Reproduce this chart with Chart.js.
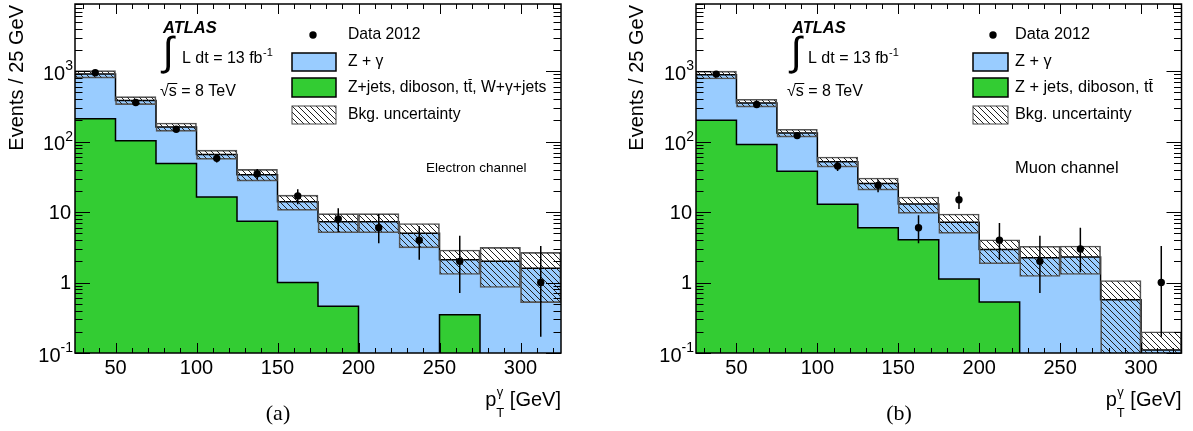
<!DOCTYPE html>
<html><head><meta charset="utf-8">
<script src="https://cdn.jsdelivr.net/npm/chart.js@4.4.1/dist/chart.umd.min.js"></script>
<style>
html,body{margin:0;padding:0;background:#fff;}
#wrap{position:relative;width:1193px;height:431px;overflow:hidden;background:#fff;}
canvas{position:absolute;top:0;}
</style></head><body>
<div id="wrap">
<canvas id="cA" width="596" height="431" style="left:0px;width:596px;height:431px"></canvas>
<canvas id="cB" width="597" height="431" style="left:596px;width:597px;height:431px"></canvas>
</div>
<script>
// ---------- data ----------
const binEdges = [25,50,75,100,125,150,175,200,225,250,275,300,325];
const xTickValues = [50,100,150,200,250,300];
const xTickLabels = ['50','100','150','200','250','300'];
const yTickValues = [0.1,1,10,100,1000];
const yTickLabels = ['10^-1','1','10','10^2','10^3'];
const yMin = 0.1, yMax = 9000;

// (a) electron channel
const elecOther   = [211,103,49,16.4,7.4,1.0,0.46,0,0,0.35,0,0];
const elecZgamma  = [699,282,113,49.6,26.6,13.0,6.84,7.3,5.0,1.75,2.0,1.6];
const elecBkgUnc  = [112,50,22,10,6.5,3.4,2.2,2.2,1.9,0.8,1.15,1.08];
const elecData    = [950,360,150,58,35,17,8,6,4,2,null,1];
const elecDataLo  = [919,341,138,50.5,29.1,12.9,5.2,3.6,2.1,0.71,null,0.17];
const elecDataHi  = [981,379,162,65.5,40.9,21.1,11.3,9.4,6.3,4.6,null,3.3];

// (b) muon channel
const muonOther   = [201,91,38,12.9,6.0,4.05,1.12,0.53,0,0,0,0];
const muonZgamma  = [689,264,95,39.1,19.5,8.95,6.08,2.42,2.25,2.3,0.57,0.11];
const muonBkgUnc  = [115,45,17,8.5,5.0,3.4,2.2,1.1,1.03,1.0,0.5,0.09];
const muonData    = [910,337,122,45,24,6,15,4,2,3,null,1];
const muonDataLo  = [880,319,111,38.3,19.1,3.6,11.1,2.1,0.71,1.4,null,0.17];
const muonDataHi  = [940,355,133,51.7,28.9,9.0,19.4,7.0,4.6,6.0,null,3.3];

const FONT = '"Liberation Sans", Arial, Helvetica, sans-serif';
const BLUE = '#99ccff', GREEN = '#33cc33';

function makePattern(ctx){
  const s = 6, c = document.createElement('canvas');
  c.width = s; c.height = s;
  const g = c.getContext('2d');
  g.strokeStyle = '#222'; g.lineWidth = 1;
  g.beginPath();
  for (const o of [-s, 0, s]) { g.moveTo(o, 0); g.lineTo(o + s, s); }
  g.stroke();
  return ctx.createPattern(c, 'repeat');
}

function makeDecor(cfg){
  const off = cfg.off;
  function txt(ctx, s, X, Y, size, opt){
    opt = opt || {};
    ctx.font = (opt.style || '') + ' ' + size + 'px ' + FONT;
    ctx.textAlign = opt.align || 'left';
    ctx.textBaseline = opt.base || 'middle';
    ctx.fillStyle = '#000';
    ctx.fillText(s, X - off, Y);
    return ctx.measureText(s).width;
  }
  function line(ctx, x1, y1, x2, y2){ ctx.beginPath(); ctx.moveTo(x1, y1); ctx.lineTo(x2, y2); ctx.stroke(); }
  return {
    id: 'decor' + cfg.id,
    afterDatasetsDraw(chart){
      const {ctx, chartArea: a, scales: {x, y}} = chart;
      ctx.save();
      ctx.beginPath(); ctx.rect(a.left, a.top, a.right - a.left, a.bottom - a.top); ctx.clip();
      ctx.strokeStyle = '#000'; ctx.lineWidth = 1.5;
      cfg.data.forEach((v, i) => {
        if (v == null) return;
        const px = x.getPixelForValue(cfg.centers[i]);
        line(ctx, px, y.getPixelForValue(cfg.lo[i]), px, y.getPixelForValue(cfg.hi[i]));
      });
      ctx.restore();
    },
    afterDraw(chart){
      const {ctx, chartArea: a, scales: {x, y}} = chart;
      ctx.save();
      // frame
      ctx.strokeStyle = '#000'; ctx.lineWidth = 1.5;
      ctx.strokeRect(a.left, a.top, a.right - a.left, a.bottom - a.top);
      // ticks
      ctx.lineWidth = 1;
      for (let v = 30; v <= 320; v += 10) {
        const px = Math.round(x.getPixelForValue(v)) + 0.5;
        const L = v % 50 === 0 ? 10 : 5;
        line(ctx, px, a.bottom, px, a.bottom - L);
        line(ctx, px, a.top, px, a.top + L);
      }
      for (let e = -1; e <= 3; e++) {
        for (let k = 1; k <= 9; k++) {
          const v = k * Math.pow(10, e);
          if (v > yMax) break;
          const py = Math.round(y.getPixelForValue(v)) + 0.5;
          const L = k === 1 ? 15 : 7.5;
          line(ctx, a.left, py, a.left + L, py);
          line(ctx, a.right, py, a.right - L, py);
        }
      }
      // x tick labels
      ctx.fillStyle = '#000';
      xTickValues.forEach((v, i) => {
        ctx.font = '20px ' + FONT; ctx.textAlign = 'center'; ctx.textBaseline = 'middle';
        ctx.fillText(xTickLabels[i], x.getPixelForValue(v), a.bottom + 15);
      });
      // y tick labels
      yTickValues.forEach((v, i) => {
        const py = y.getPixelForValue(v);
        const parts = yTickLabels[i].split('^');
        const xr = a.left - 4;
        ctx.textBaseline = 'middle'; ctx.textAlign = 'left';
        if (parts.length === 1) {
          ctx.font = '20px ' + FONT;
          const w = ctx.measureText(parts[0]).width;
          ctx.fillText(parts[0], xr - w, py + 1);
        } else {
          ctx.font = '20px ' + FONT;
          const wb = ctx.measureText(parts[0]).width;
          ctx.font = '14px ' + FONT;
          const we = ctx.measureText(parts[1]).width;
          const x0 = xr - wb - we + 2;
          ctx.font = '20px ' + FONT;
          ctx.fillText(parts[0], x0, py + 3);
          ctx.font = '14px ' + FONT;
          ctx.fillText(parts[1], x0 + wb, py - 5);
        }
      });
      // y title
      ctx.save();
      ctx.translate(cfg.yTitleX - off, 5);
      ctx.rotate(-Math.PI / 2);
      ctx.font = '20px ' + FONT; ctx.textAlign = 'right'; ctx.textBaseline = 'middle';
      ctx.fillText('Events / 25 GeV', 0, 0);
      ctx.restore();
      // x title  p_T^gamma [GeV]
      {
        ctx.font = '20px ' + FONT; const wp = ctx.measureText('p').width;
        const wr = ctx.measureText(' [GeV]').width;
        ctx.font = '13px ' + FONT; const ws = Math.max(ctx.measureText('T').width, ctx.measureText('γ').width);
        const x0 = a.right - (wp + ws + wr);
        ctx.textAlign = 'left'; ctx.textBaseline = 'alphabetic';
        ctx.font = '20px ' + FONT; ctx.fillText('p', x0, 406);
        ctx.font = '13px ' + FONT; ctx.fillText('T', x0 + wp, 417); ctx.fillText('γ', x0 + wp + 0.5, 396);
        ctx.font = '20px ' + FONT; ctx.fillText(' [GeV]', x0 + wp + ws, 406);
      }
      // panel letter
      ctx.font = '22px "Liberation Serif", "DejaVu Serif", serif';
      ctx.textAlign = 'center'; ctx.textBaseline = 'middle';
      ctx.fillText(cfg.letter, cfg.letterX - off, 414);
      // ATLAS label
      txt(ctx, 'ATLAS', cfg.atlasX, 33, 16.5, {style: 'italic bold', base: 'alphabetic'});
      txt(ctx, '∫', cfg.intX, 54, 40, {align: 'center'});
      const wl = txt(ctx, 'L dt = 13 fb', cfg.ldtX, 63, 16, {base: 'alphabetic'});
      txt(ctx, '-1', cfg.ldtX + wl + 0.5, 56, 11, {base: 'alphabetic'});
      {
        ctx.font = '16px ' + FONT;
        const wsq = ctx.measureText('√').width, wsx = ctx.measureText('s').width;
        txt(ctx, '√s = 8 TeV', cfg.sqrtX, 96, 16, {base: 'alphabetic'});
        ctx.lineWidth = 1; ctx.strokeStyle = '#000';
        line(ctx, cfg.sqrtX - off + wsq - 1, 83.5, cfg.sqrtX - off + wsq + wsx + 0.5, 83.5);
      }
      // legend
      const L = cfg.leg, fs = L.size;
      ctx.fillStyle = '#000';
      ctx.beginPath(); ctx.arc(L.markX - off, 35, 3.7, 0, Math.PI * 2); ctx.fill();
      txt(ctx, 'Data 2012', L.textX, 35, fs);
      const boxes = [[53, 71, BLUE], [78, 97, GREEN], [106, 124, cfg.pattern]];
      boxes.forEach((b, i) => {
        ctx.fillStyle = b[2];
        ctx.fillRect(L.boxX - off, b[0], L.boxW, b[1] - b[0]);
        ctx.strokeStyle = i === 2 ? '#444' : '#000'; ctx.lineWidth = i === 2 ? 1 : 1.5;
        ctx.strokeRect(L.boxX - off, b[0], L.boxW, b[1] - b[0]);
      });
      txt(ctx, 'Z + γ', L.textX, 62, fs);
      {
        let xx = L.textX;
        cfg.otherLabel.forEach(sg => {
          const w = txt(ctx, sg.t, xx, 88, fs);
          if (sg.bar) {
            ctx.strokeStyle = '#000'; ctx.lineWidth = 1;
            line(ctx, xx - off + 0.5, 79.5, xx - off + w - 0.5, 79.5);
          }
          xx += w;
        });
      }
      txt(ctx, 'Bkg. uncertainty', L.textX, 115, fs);
      txt(ctx, cfg.channel, cfg.chanX, 168, cfg.chanSize);
      ctx.restore();
    }
  };
}

function buildChart(canvasId, cfg, other, zg, unc, data, lo, hi){
  const canvas = document.getElementById(canvasId);
  const ctx = canvas.getContext('2d');
  const pattern = makePattern(ctx);
  const centers = binEdges.slice(0, -1).map((e, i) => (e + binEdges[i + 1]) / 2);
  const totals = other.map((g, i) => g + zg[i]);
  const stepPts = vals => binEdges.map((xv, i) => ({x: xv, y: vals[Math.min(i, vals.length - 1)] || 1e-4}));
  cfg.centers = centers; cfg.data = data; cfg.lo = lo; cfg.hi = hi; cfg.pattern = pattern;
  return new Chart(ctx, {
    type: 'line',
    data: {
      datasets: [
        {type: 'line', label: 'Z + γ', data: stepPts(totals), stepped: true, fill: 'start',
         backgroundColor: BLUE, borderColor: '#000', borderWidth: 1.5, pointRadius: 0, order: 3},
        {type: 'line', label: 'other', data: stepPts(other), stepped: true, fill: 'start',
         backgroundColor: GREEN, borderColor: '#000', borderWidth: 1.5, pointRadius: 0, order: 2},
        {type: 'bar', label: 'Bkg. uncertainty',
         data: centers.map((c, i) => ({x: c, y: [totals[i] - unc[i], totals[i] + unc[i]]})),
         backgroundColor: pattern, borderColor: '#555', borderWidth: 1, borderSkipped: false,
         barPercentage: 1, categoryPercentage: 1, order: 1},
        {type: 'line', label: 'Data 2012', showLine: false,
         data: centers.map((c, i) => ({x: c, y: data[i]})).filter(p => p.y != null),
         pointRadius: 3.7, pointBackgroundColor: '#000', pointBorderWidth: 0, pointBorderColor: '#000', order: 0}
      ]
    },
    options: {
      responsive: false, animation: false, devicePixelRatio: 1,
      layout: {padding: cfg.padding},
      plugins: {legend: {display: false}, tooltip: {enabled: false}},
      scales: {
        x: {type: 'linear', min: 25, max: 325, offset: false, display: false},
        y: {type: 'logarithmic', min: yMin, max: yMax, display: false}
      }
    },
    plugins: [makeDecor(cfg)]
  });
}

buildChart('cA', {
  id: 'A', off: 0, padding: {left: 75, right: 35, top: 4, bottom: 78},
  yTitleX: 17, letter: '(a)', letterX: 278,
  atlasX: 163, intX: 168, ldtX: 182, sqrtX: 160,
  leg: {markX: 313, textX: 348, boxX: 292, boxW: 44, size: 15.7},
  otherLabel: [{t: 'Z+jets, diboson, t'}, {t: 't', bar: true}, {t: ', W+γ+jets'}],
  channel: 'Electron channel', chanX: 426, chanSize: 13.5
}, elecOther, elecZgamma, elecBkgUnc, elecData, elecDataLo, elecDataHi);

buildChart('cB', {
  id: 'B', off: 596, padding: {left: 100, right: 11.5, top: 4, bottom: 78},
  yTitleX: 637, letter: '(b)', letterX: 899,
  atlasX: 792, intX: 796, ldtX: 808, sqrtX: 787,
  leg: {markX: 993, textX: 1015, boxX: 973, boxW: 35, size: 16.3},
  otherLabel: [{t: 'Z + jets, diboson, t'}, {t: 't', bar: true}],
  channel: 'Muon channel', chanX: 1015, chanSize: 16.5
}, muonOther, muonZgamma, muonBkgUnc, muonData, muonDataLo, muonDataHi);
</script>
</body></html>
